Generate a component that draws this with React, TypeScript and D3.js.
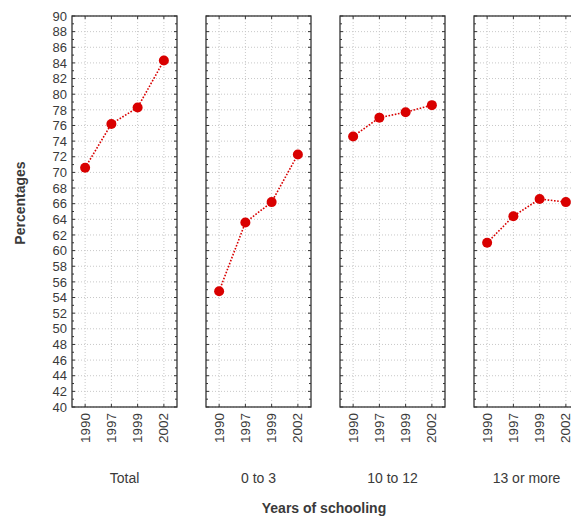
import React from "react";
import * as d3 from "d3";

const years = ["1990", "1997", "1999", "2002"];
const groups = ["Total", "0 to 3", "10 to 12", "13 or more"];
const totalValues = [70.6, 76.2, 78.3, 84.3];
const low03Values = [54.8, 63.6, 66.2, 72.3];
const mid1012Values = [74.6, 77.0, 77.7, 78.6];
const high13Values = [61.0, 64.4, 66.6, 66.2];
const seriesValues = [totalValues, low03Values, mid1012Values, high13Values];
const yTicks = d3.range(40, 91, 2);
const yMinor = d3.range(40, 91, 1);

const W = 571;
const H = 516;
const panelLeft0 = 72;
const panelStep = 134;
const panelW = 105;
const top = 16;
const bottom = 407;
const font = "Arial, 'Liberation Sans', sans-serif";
const textColor = "#3a3a3a";
const red = "#d90000";

export default function App() {
  const y = d3.scaleLinear().domain([40, 90]).range([bottom, top]);
  const x = d3.scalePoint<string>().domain(years).range([0, panelW]).padding(0.5);
  const line = d3
    .line<number>()
    .x((_, i) => x(years[i]) as number)
    .y((d) => y(d));

  return (
    <svg width={W} height={H} style={{ position: "absolute", left: 0, top: 0, background: "#fff" }}>
      {yTicks.map((t) => (
        <text
          key={t}
          x={67}
          y={y(t)}
          dy="0.36em"
          textAnchor="end"
          fontFamily={font}
          fontSize={13}
          fill={textColor}
        >
          {t}
        </text>
      ))}
      <text
        transform={`translate(25,203) rotate(-90)`}
        textAnchor="middle"
        fontFamily={font}
        fontSize={14}
        fontWeight="bold"
        fill={textColor}
      >
        Percentages
      </text>
      {groups.map((g, gi) => {
        const left = panelLeft0 + gi * panelStep;
        const vals = seriesValues[gi];
        return (
          <g key={g} transform={`translate(${left},0)`}>
            {yTicks.map((t) => (
              <line
                key={"h" + t}
                x1={0}
                x2={panelW}
                y1={y(t)}
                y2={y(t)}
                stroke="#c8c8c8"
                strokeWidth={1}
                strokeDasharray="1,2"
              />
            ))}
            {years.map((yr) => (
              <line
                key={"v" + yr}
                x1={x(yr)}
                x2={x(yr)}
                y1={top}
                y2={bottom}
                stroke="#c8c8c8"
                strokeWidth={1}
                strokeDasharray="1,2"
              />
            ))}
            {yMinor.map((t) => {
              const len = t % 2 === 0 ? 3 : 2;
              return (
                <g key={"t" + t}>
                  <line x1={0} x2={len} y1={y(t)} y2={y(t)} stroke="#333" strokeWidth={1} />
                  <line x1={panelW - len} x2={panelW} y1={y(t)} y2={y(t)} stroke="#333" strokeWidth={1} />
                </g>
              );
            })}
            {years.map((yr) => (
              <g key={"xt" + yr}>
                <line x1={x(yr)} x2={x(yr)} y1={bottom} y2={bottom - 3} stroke="#333" />
                <line x1={x(yr)} x2={x(yr)} y1={top} y2={top + 3} stroke="#333" />
              </g>
            ))}
            <rect
              x={0}
              y={top}
              width={panelW}
              height={bottom - top}
              fill="none"
              stroke="#333"
              strokeWidth={1.3}
            />
            <path
              d={line(vals) || ""}
              fill="none"
              stroke={red}
              strokeWidth={1.6}
              strokeDasharray="1.6,1.6"
            />
            {vals.map((v, i) => (
              <circle key={"c" + i} cx={x(years[i])} cy={y(v)} r={5} fill={red} />
            ))}
            {years.map((yr) => (
              <text
                key={"xl" + yr}
                transform={`translate(${(x(yr) as number) + 4.5},${bottom + 6}) rotate(-90)`}
                textAnchor="end"
                fontFamily={font}
                fontSize={13.5}
                fill={textColor}
              >
                {yr}
              </text>
            ))}
            <text
              x={panelW / 2}
              y={483}
              textAnchor="middle"
              fontFamily={font}
              fontSize={14}
              fill={textColor}
            >
              {g}
            </text>
          </g>
        );
      })}
      <text
        x={324}
        y={513}
        textAnchor="middle"
        fontFamily={font}
        fontSize={14}
        fontWeight="bold"
        fill={textColor}
      >
        Years of schooling
      </text>
    </svg>
  );
}
